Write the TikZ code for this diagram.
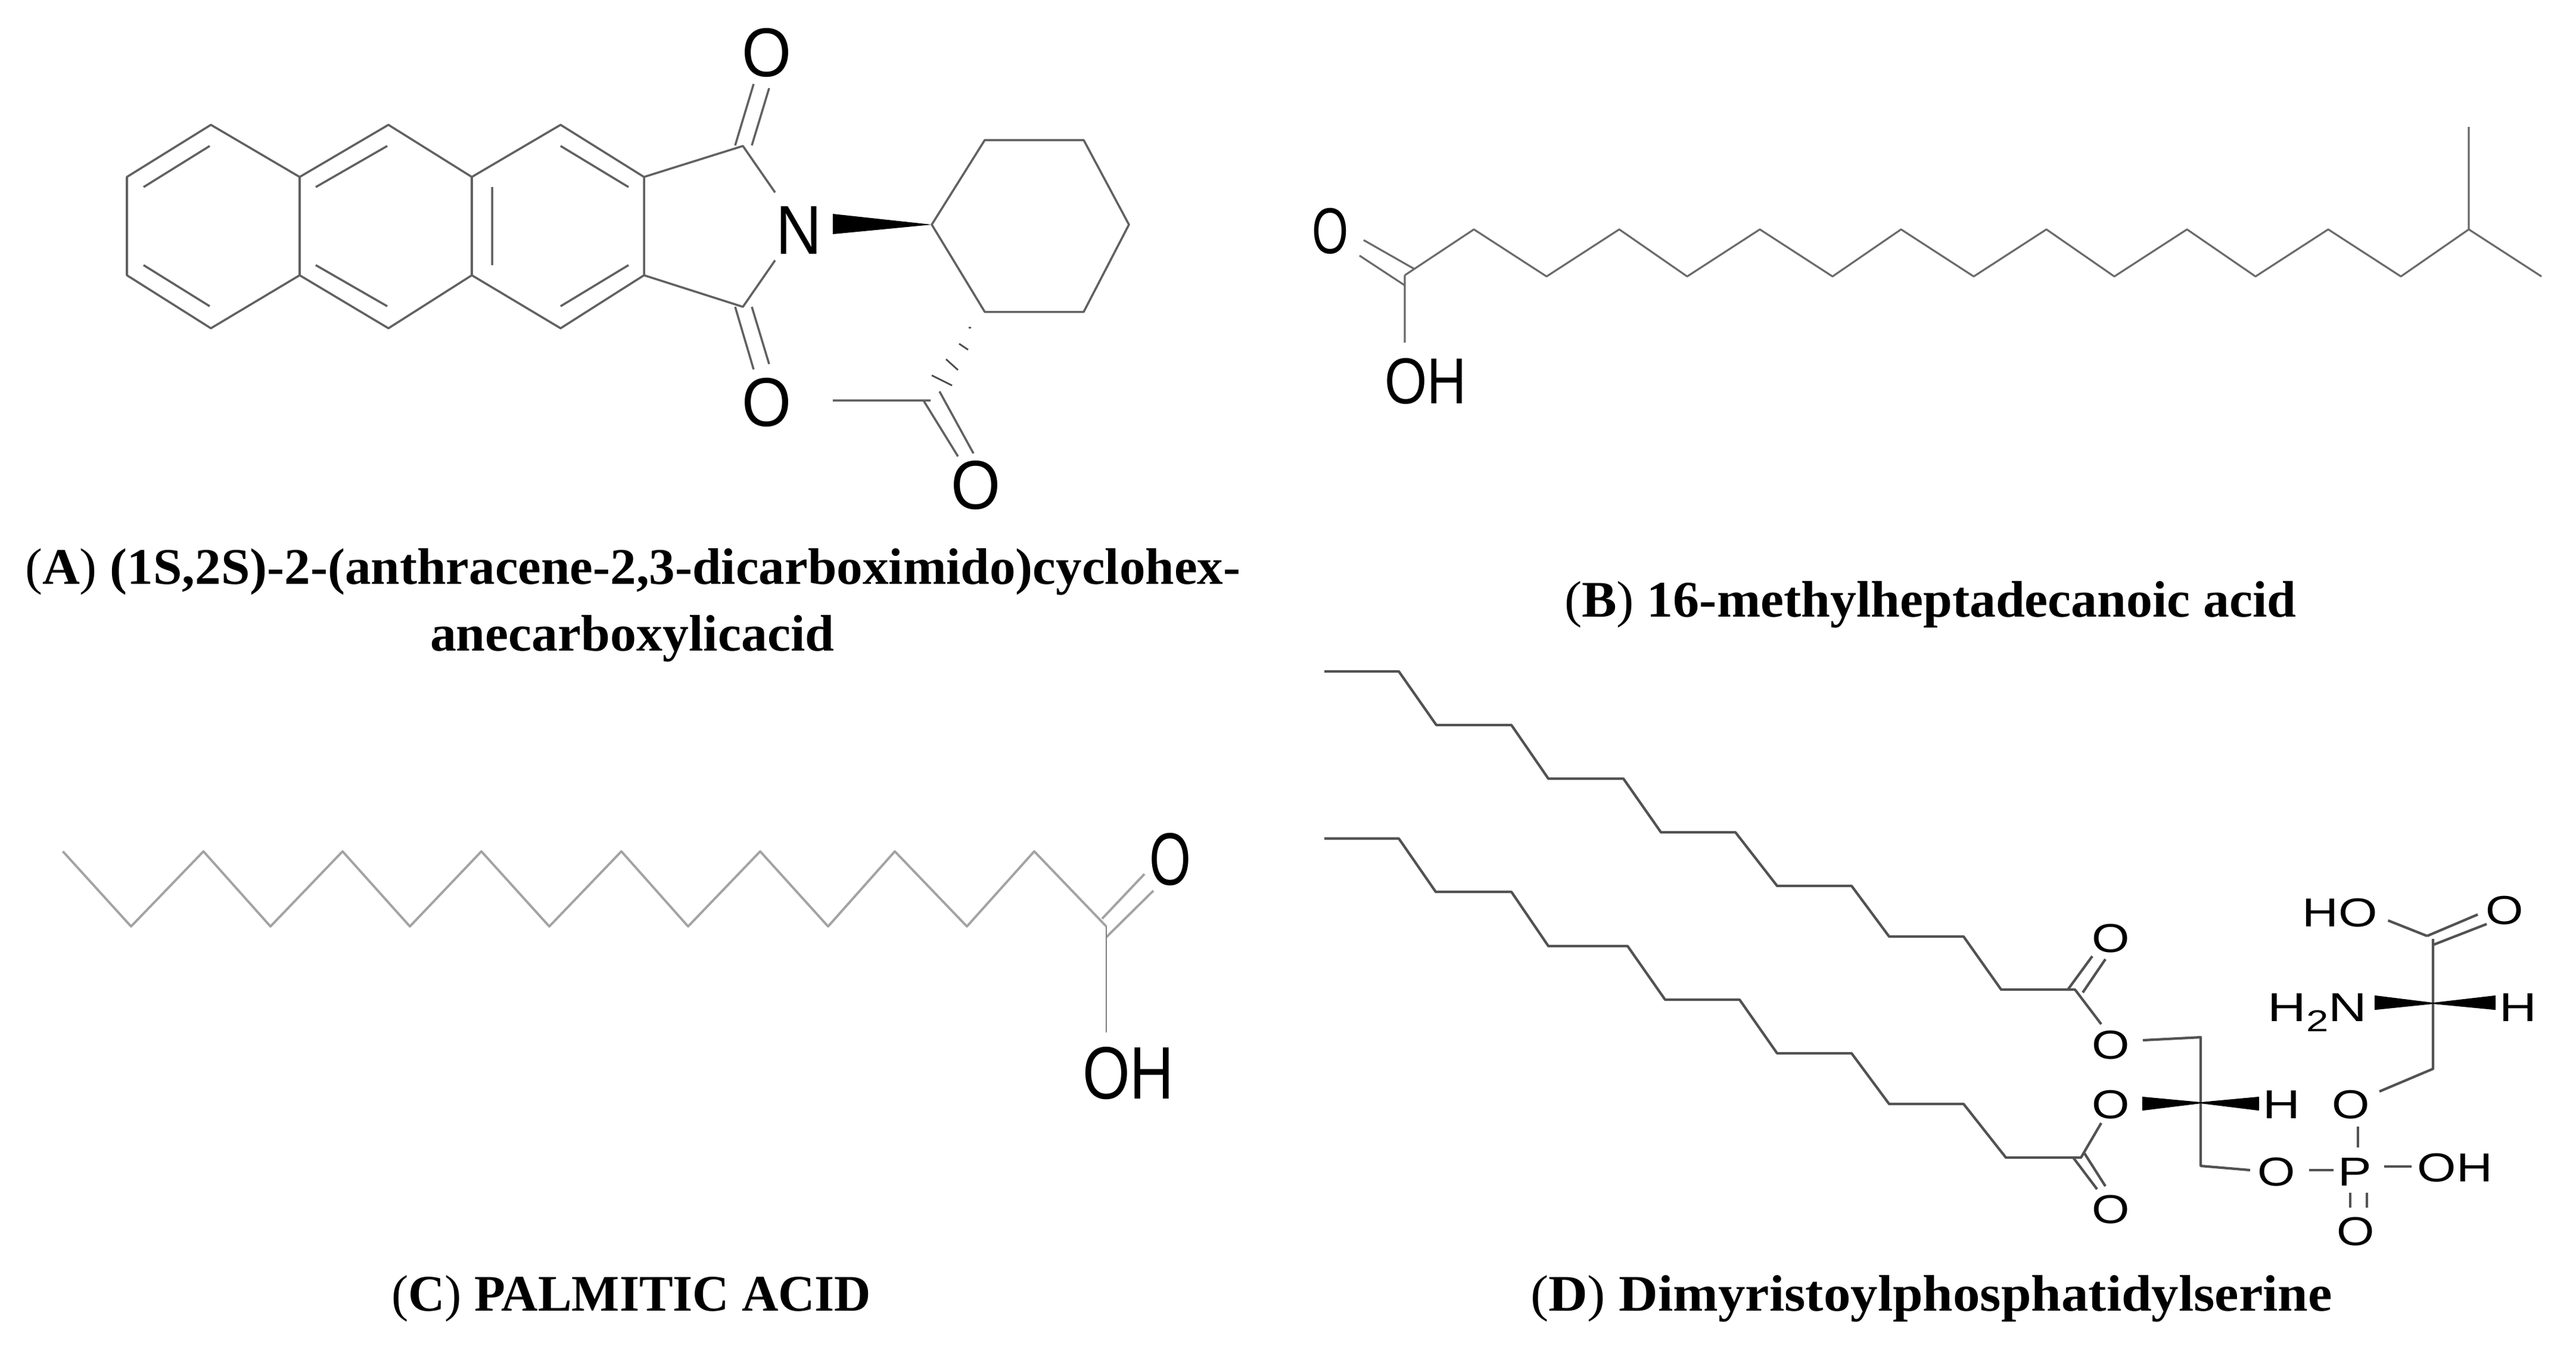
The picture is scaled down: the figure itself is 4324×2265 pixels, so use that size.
\documentclass[tikz,border=0pt]{standalone}
\usepackage{graphicx}
\usepackage{fontspec}
\setmainfont{Liberation Serif}
\newfontfamily\atomfont{Liberation Sans}
\newcommand{\atomA}[1]{\scalebox{.92}[1]{\fontsize{33}{33}\atomfont #1}}
\newcommand{\atomB}[2][.72]{\scalebox{#1}[1]{\fontsize{31}{31}\atomfont #2}}
\newcommand{\atomC}[2][.72]{\scalebox{#1}[1]{\fontsize{35.5}{35.5}\atomfont #2}}
\newcommand{\atomD}[2][1.2]{\scalebox{#1}[1]{\fontsize{19.3}{19.3}\atomfont #2}}
\newcommand{\capfit}[2]{\resizebox{#1cm}{\height}{\fontsize{24.5}{24.5}\selectfont #2}}
\tikzset{
  bondA/.style={draw=black!62,line width=1pt,line join=round},
  bondB/.style={draw=black!58,line width=.9pt,line join=round},
  bondC/.style={draw=black!36,line width=1.1pt,line join=round},
  bondD/.style={draw=black!68,line width=1.2pt,line join=round},
  atom/.style={inner sep=0pt,outer sep=0pt,text=black},
  caption/.style={inner sep=0pt,outer sep=0pt,anchor=base west,text=black},
  wedge/.style={fill=black,draw=none},
  wedgeD/.style={fill=black,draw=black,line width=.6pt,line join=miter}
}
\begin{document}
\begin{tikzpicture}[x=0.01cm,y=-0.01cm]
\useasboundingbox (0,0) rectangle (4324,2265);
\fill[white] (0,0) rectangle (4324,2265);

% ---------- A ----------
\foreach \n/\x/\y in {a1/213/297,a2/354/209.5,a3/503/297,a4/503/462,a5/354/551,a6/213/462,
  a7/652/209.5,a8/792/297,a9/792/462,a10/652/551,a11/941/209.5,a12/1081/297,a13/1081/462,a14/941/551,
  a15/1247/245,a16/1247/515,h1/1564/377,h2/1653/235,h3/1819/235,h4/1895/377,h5/1819/523.5,h6/1653/523.5,
  i1/241/314,i2/352/245,i3/241/445,i4/352/514,i5/530/314,i6/650/245,i7/530/445,i8/650/514,
  i9/826/314,i10/826/445,i11/941/245,i12/1055/314,i13/941/514,i14/1055/445,
  n1/1301/323,n2/1301/437,d1/1234/244,d2/1265/141,d3/1262/244,d4/1291/148,
  d5/1234/515,d6/1265/620,d7/1262/515,d8/1291/611,
  w1/1398/359,w2/1398/393,k1/1398/672,k2/1562/672,k3/1550/672,k4/1608/766,k5/1577/657,k6/1634/761,
  q1/1610/577,q2/1625/587,q3/1588/603,q4/1608/621,q5/1564/630,q6/1598/647,q7/1626/550,q8/1630/550}
  {\coordinate (\n) at (\x,\y);}
\node[atom] (aN) at (1341,387) {\atomA{N}};
\node[atom] (aO1) at (1287,89) {\atomA{O}};
\node[atom] (aO2) at (1287,676) {\atomA{O}};
\node[atom] (aO3) at (1638,815) {\atomA{O}};
\draw[bondA] (a1)--(a2)--(a3)--(a7)--(a8)--(a11)--(a12)--(a13)--(a14)--(a9)--(a10)--(a4)--(a5)--(a6)--cycle;
\draw[bondA] (a3)--(a4) (a8)--(a9);
\draw[bondA] (i1)--(i2) (i3)--(i4) (i5)--(i6) (i7)--(i8) (i9)--(i10) (i11)--(i12) (i13)--(i14);
\draw[bondA] (a12)--(a15)--(n1) (a13)--(a16)--(n2);
\draw[bondA] (d1)--(d2) (d3)--(d4) (d5)--(d6) (d7)--(d8);
\draw[bondA] (h1)--(h2)--(h3)--(h4)--(h5)--(h6)--cycle;
\fill[wedge] (h1)--(w1)--(w2)--cycle;
\draw[bondA] (k1)--(k2) (k3)--(k4) (k5)--(k6);
\draw[black!70,line width=.8pt] (q1)--(q2) (q3)--(q4) (q5)--(q6) (q7)--(q8);

% ---------- B ----------
\foreach \n/\x/\y in {b0/2358/462,b1/2474/385,b2/2596/464,b3/2718/385,b4/2832/464,b5/2954/385,b6/3076/464,
  b7/3191/385,b8/3313/464,b9/3435/385,b10/3549/464,b11/3671/385,b12/3786/464,b13/3908/385,b14/4030/464,
  b15/4144/385,b16/4266/464,bm/4144/213,bh/2358/575,bd1/2375/452,bd2/2289/403,bd3/2358/479,bd4/2282/429}
  {\coordinate (\n) at (\x,\y);}
\node[atom] (bO) at (2233,388) {\atomB{O}};
\node[atom] (bOH) at (2393,640) {\atomB[.84]{OH}};
\draw[bondB] (b0)--(b1)--(b2)--(b3)--(b4)--(b5)--(b6)--(b7)--(b8)--(b9)--(b10)--(b11)--(b12)--(b13)--(b14)--(b15)--(b16);
\draw[bondB] (b15)--(bm) (b0)--(bh) (bd1)--(bd2) (bd3)--(bd4);

% ---------- C ----------
\foreach \n/\x/\y in {c0/105.5/1429,c1/220/1555,c2/341.5/1429,c3/454/1555,c4/575/1429,c5/688/1555,c6/808/1429,
  c7/922/1555,c8/1043/1429,c9/1155/1555,c10/1276/1429,c11/1390/1555,c12/1502/1429,c13/1623/1555,c14/1736/1429,
  c15/1857/1555,ch/1857/1733,cd1/1850/1542,cd2/1921/1467,cd3/1857/1573,cd4/1936/1495}
  {\coordinate (\n) at (\x,\y);}
\node[atom] (cO) at (1964,1442.5) {\atomC{O}};
\node[atom] (cOH) at (1894,1801) {\atomC[.82]{OH}};
\draw[bondC] (c0)--(c1)--(c2)--(c3)--(c4)--(c5)--(c6)--(c7)--(c8)--(c9)--(c10)--(c11)--(c12)--(c13)--(c14)--(c15);
\draw[bondC] (cd1)--(cd2) (cd3)--(cd4);
\draw[draw=black!50,line width=.8pt] (c15)--(ch);

% ---------- D ----------
\foreach \n/\x/\y in {u1/2223/1127,u2/2348/1127,u3/2411/1217,u4/2537/1217,u5/2599/1307,u6/2725/1307,u7/2788/1397,
  u8/2913/1397,u9/2983/1487,u10/3108/1487,u11/3171/1572,u12/3296/1572,u13/3359/1661,u14/3483/1661,
  l1/2223/1407.5,l2/2348/1407.5,l3/2410/1497,l4/2537/1497,l5/2599/1588,l6/2732/1588,l7/2795/1678,
  l8/2920/1678,l9/2983/1768,l10/3108/1768,l11/3171/1853,l12/3296/1853,l13/3367/1943,l14/3493/1943,
  e1/3527/1719,e2/3471/1661,e3/3512/1605,e4/3496/1666,e5/3534/1610,
  f1/3527/1885,f2/3480/1943,f3/3520/1996,f4/3499/1936,f5/3534/1991,
  g0/3597/1746,g1/3694/1741,g2/3694/1851,g3/3694/1957,g4/3777/1964,
  gw1/3597/1842,gw2/3597/1863,gw3/3791/1842,gw4/3791/1863,
  s1/4084/1576,s2/4084/1684,s3/4084/1794,s4/3994/1832,s5/4008.5/1545,s6/4074/1571,s7/4159/1535,s8/4084/1586,s9/4174/1551,
  sw1/3987/1672,sw2/3987/1694,sw3/4188/1672,sw4/4188/1694,
  p1/3876/1964,p2/3917/1964,p3/4002/1958,p4/4048/1958,p5/3958/1891,p6/3958/1926,
  p7/3945/2002,p8/3945/2027,p9/3973/2002,p10/3973/2027}
  {\coordinate (\n) at (\x,\y);}
\node[atom] (dHO) at (3928,1532) {\atomD[1.24]{HO}};
\node[atom] (dO1) at (4204,1528) {\atomD{O}};
\node[atom,anchor=base] (dH2N) at (3890,1714) {\atomD[1.32]{H\raisebox{-.25em}{\scalebox{.75}{2}}N}};
\node[atom] (dH1) at (4227,1691) {\atomD[1.28]{H}};
\node[atom] (dO2) at (3543,1575) {\atomD{O}};
\node[atom] (dO3) at (3543,1754) {\atomD{O}};
\node[atom] (dO4) at (3543,1854) {\atomD{O}};
\node[atom] (dH2) at (3830,1854) {\atomD[1.28]{H}};
\node[atom] (dO5) at (3946,1854) {\atomD{O}};
\node[atom] (dO6) at (3821,1967) {\atomD{O}};
\node[atom] (dP) at (3953,1967) {\atomD[1.25]{P}};
\node[atom] (dOH) at (4121,1960) {\atomD[1.24]{OH}};
\node[atom] (dO7) at (3543,2030) {\atomD{O}};
\node[atom] (dO8) at (3954,2067) {\atomD{O}};
\draw[bondD] (u1)--(u2)--(u3)--(u4)--(u5)--(u6)--(u7)--(u8)--(u9)--(u10)--(u11)--(u12)--(u13)--(u14)--(e1);
\draw[bondD] (l1)--(l2)--(l3)--(l4)--(l5)--(l6)--(l7)--(l8)--(l9)--(l10)--(l11)--(l12)--(l13)--(l14)--(f1);
\draw[bondD] (e2)--(e3) (e4)--(e5) (f2)--(f3) (f4)--(f5);
\draw[bondD] (g0)--(g1)--(g3)--(g4);
\draw[bondD] (s5)--(s6) (s6)--(s7) (s8)--(s9) (s1)--(s3)--(s4);
\draw[bondD] (p1)--(p2) (p3)--(p4) (p5)--(p6) (p7)--(p8) (p9)--(p10);
\path[wedgeD] (g2)--(gw1)--(gw2)--cycle (g2)--(gw3)--(gw4)--cycle;
\path[wedgeD] (s2)--(sw1)--(sw2)--cycle (s2)--(sw3)--(sw4)--cycle;

% ---------- captions ----------
\node[caption] (capA1) at (42,980) {\capfit{20.39}{({\bfseries A}) {\bfseries (1S,2S)-2-(anthracene-2,3-dicarboximido)cyclohex-}}};
\node[caption] (capA2) at (722,1092) {\capfit{6.78}{\bfseries anecarboxylicacid}};
\node[caption] (capB) at (2626,1035) {\capfit{12.28}{({\bfseries B}) {\bfseries 16-methylheptadecanoic acid}}};
\node[caption] (capC) at (657,2200) {\capfit{8.05}{({\bfseries C}) {\bfseries PALMITIC ACID}}};
\node[caption] (capD) at (2569,2200) {\capfit{13.45}{({\bfseries D}) {\bfseries Dimyristoylphosphatidylserine}}};
\end{tikzpicture}
\end{document}
